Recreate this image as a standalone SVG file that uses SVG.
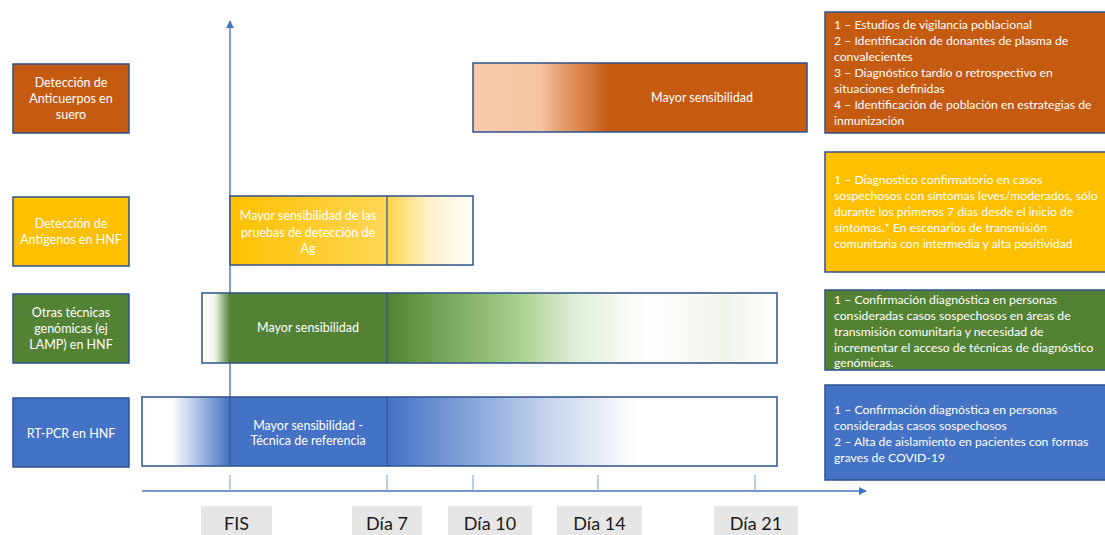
<svg xmlns="http://www.w3.org/2000/svg" width="1105" height="535" viewBox="0 0 1105 535">
<style>
.lbl{font-family:Lato,"Liberation Sans",sans-serif;font-size:12.5px;fill:#ffffff;text-anchor:middle}
.desc{font-family:Lato,"Liberation Sans",sans-serif;font-size:12.2px;fill:#ffffff}
.day{font-family:Lato,"Liberation Sans",sans-serif;font-size:18px;fill:#1a1a1a;text-anchor:middle}
.bx{stroke:#2f528f;stroke-width:1.5}
.bar{fill:none;stroke:#2f528f;stroke-width:1.5}
.div{stroke:#2f528f;stroke-width:1.2}
.axis{stroke:#4472c4;stroke-width:1.4;fill:none}
.tick{stroke:#8faadc;stroke-width:1.2}
.dbg{fill:#e7e6e6}
</style>
<defs>
<marker id="arr" viewBox="0 0 10 10" refX="9" refY="5" markerWidth="8" markerHeight="8" markerUnits="userSpaceOnUse" orient="auto">
<path d="M0,0 L10,5 L0,10 z" fill="#4472c4"/>
</marker>
<linearGradient id="gAb" x1="0" y1="0" x2="1" y2="0">
<stop offset="0" stop-color="#f8cbad"/><stop offset="0.2" stop-color="#f5c4a1"/><stop offset="0.27" stop-color="#e39d6c"/><stop offset="0.34" stop-color="#d67d42"/><stop offset="0.41" stop-color="#c55a11"/><stop offset="1" stop-color="#c55a11"/>
</linearGradient>
<linearGradient id="gAgL" x1="0" y1="0" x2="1" y2="0">
<stop offset="0" stop-color="#ffc000"/><stop offset="1" stop-color="#ffd757"/>
</linearGradient>
<linearGradient id="gAgR" x1="0" y1="0" x2="1" y2="0">
<stop offset="0" stop-color="#ffd34d"/><stop offset="0.5" stop-color="#fff2cc"/><stop offset="1" stop-color="#fffdf5"/>
</linearGradient>
<linearGradient id="gGnL" x1="0" y1="0" x2="1" y2="0">
<stop offset="0" stop-color="#ffffff"/><stop offset="0.45" stop-color="#f2f7ee"/><stop offset="1" stop-color="#548235"/>
</linearGradient>
<linearGradient id="gGnR" x1="0" y1="0" x2="1" y2="0">
<stop offset="0" stop-color="#548235"/><stop offset="0.34" stop-color="#a9d18e"/><stop offset="0.49" stop-color="#e2efda"/><stop offset="0.67" stop-color="#ffffff"/><stop offset="0.87" stop-color="#f0f5ec"/><stop offset="1" stop-color="#ffffff"/>
</linearGradient>
<linearGradient id="gBlL" x1="0" y1="0" x2="1" y2="0">
<stop offset="0" stop-color="#ffffff"/><stop offset="0.34" stop-color="#ffffff"/><stop offset="1" stop-color="#4472c4"/>
</linearGradient>
<linearGradient id="gBlR" x1="0" y1="0" x2="1" y2="0">
<stop offset="0" stop-color="#4472c4"/><stop offset="0.24" stop-color="#8faadc"/><stop offset="0.4" stop-color="#c2d1ec"/><stop offset="0.64" stop-color="#ffffff"/><stop offset="1" stop-color="#ffffff"/>
</linearGradient>
</defs>
<rect width="1105" height="535" fill="#ffffff"/>

<g id="connectors">
<line class="axis" x1="230" y1="466" x2="230" y2="21" marker-end="url(#arr)"/>
<line class="axis" x1="142" y1="491" x2="866" y2="491" marker-end="url(#arr)"/>
<line class="tick" x1="230" y1="475" x2="230" y2="491"/>
<line class="tick" x1="387" y1="475" x2="387" y2="491"/>
<line class="tick" x1="473" y1="475" x2="473" y2="491"/>
<line class="tick" x1="598" y1="475" x2="598" y2="491"/>
<line class="tick" x1="755" y1="475" x2="755" y2="491"/>
</g>

<g id="test-anticuerpos">
<rect class="bx" x="13" y="64" width="116" height="69" fill="#c55a11"/>
<text class="lbl" x="71" y="87">Detección de</text>
<text class="lbl" x="71" y="103">Anticuerpos en</text>
<text class="lbl" x="71" y="119">suero</text>
</g>
<g id="test-antigenos">
<rect class="bx" x="13" y="197" width="116" height="69" fill="#ffc000"/>
<text class="lbl" x="71" y="228">Detección de</text>
<text class="lbl" x="71" y="244">Antígenos en HNF</text>
</g>
<g id="test-genomicas">
<rect class="bx" x="13" y="294" width="116" height="69" fill="#548235"/>
<text class="lbl" x="71" y="317">Otras técnicas</text>
<text class="lbl" x="71" y="333">genómicas (ej</text>
<text class="lbl" x="71" y="349">LAMP) en HNF</text>
</g>
<g id="test-rtpcr">
<rect class="bx" x="13" y="398" width="116" height="69" fill="#4472c4"/>
<text class="lbl" x="71" y="438">RT-PCR en HNF</text>
</g>

<g id="bar-anticuerpos">
<rect x="473" y="63" width="334" height="69" fill="url(#gAb)"/>
<rect class="bar" x="473" y="63" width="334" height="69"/>
<text class="lbl" x="702" y="102">Mayor sensibilidad</text>
</g>
<g id="bar-antigenos">
<rect x="230" y="196" width="157" height="69" fill="url(#gAgL)"/>
<rect x="387" y="196" width="86" height="69" fill="url(#gAgR)"/>
<rect class="bar" x="230" y="196" width="243" height="69"/>
<line class="div" x1="387" y1="196" x2="387" y2="265"/>
<text class="lbl" x="308" y="220">Mayor sensibilidad de las</text>
<text class="lbl" x="308" y="237">pruebas de detección de</text>
<text class="lbl" x="308" y="253">Ag</text>
</g>
<g id="bar-genomicas">
<rect x="202" y="293" width="28" height="70" fill="url(#gGnL)"/>
<rect x="230" y="293" width="157" height="70" fill="#548235"/>
<rect x="387" y="293" width="390" height="70" fill="url(#gGnR)"/>
<rect class="bar" x="202" y="293" width="575" height="70"/>
<line class="div" x1="387" y1="293" x2="387" y2="363"/>
<text class="lbl" x="308" y="332">Mayor sensibilidad</text>
</g>
<g id="bar-rtpcr">
<rect x="142" y="397" width="88" height="69" fill="url(#gBlL)"/>
<rect x="230" y="397" width="157" height="69" fill="#4472c4"/>
<rect x="387" y="397" width="390" height="69" fill="url(#gBlR)"/>
<rect class="bar" x="142" y="397" width="635" height="69"/>
<line class="div" x1="230" y1="397" x2="230" y2="466"/>
<line class="div" x1="387" y1="397" x2="387" y2="466"/>
<text class="lbl" x="308" y="430">Mayor sensibilidad  -</text>
<text class="lbl" x="308" y="445">Técnica de referencia</text>
</g>

<g id="uso-anticuerpos">
<rect class="bx" x="825" y="12" width="285" height="121" fill="#c55a11"/>
<text class="desc" x="834" y="29">1 – Estudios de vigilancia poblacional</text>
<text class="desc" x="834" y="45">2 – Identificación de donantes de plasma de</text>
<text class="desc" x="834" y="61">convalecientes</text>
<text class="desc" x="834" y="77">3 – Diagnóstico tardío o retrospectivo en</text>
<text class="desc" x="834" y="93">situaciones definidas</text>
<text class="desc" x="834" y="109">4 – Identificación de población en estrategias de</text>
<text class="desc" x="834" y="125">inmunización</text>
</g>
<g id="uso-antigenos">
<rect class="bx" x="825" y="152" width="285" height="120" fill="#ffc000"/>
<text class="desc" x="834" y="184">1 – Diagnostico confirmatorio en casos</text>
<text class="desc" x="834" y="200">sospechosos con síntomas leves/moderados, sólo</text>
<text class="desc" x="834" y="216">durante los primeros 7 días desde el inicio de</text>
<text class="desc" x="834" y="232">síntomas.* En escenarios de transmisión</text>
<text class="desc" x="834" y="248">comunitaria con intermedia y alta positividad</text>
</g>
<g id="uso-genomicas">
<rect class="bx" x="825" y="290" width="285" height="80" fill="#548235"/>
<text class="desc" x="834" y="304">1 – Confirmación diagnóstica en personas</text>
<text class="desc" x="834" y="320">consideradas casos sospechosos en áreas de</text>
<text class="desc" x="834" y="336">transmisión comunitaria y necesidad de</text>
<text class="desc" x="834" y="352">incrementar el acceso de técnicas de diagnóstico</text>
<text class="desc" x="834" y="367">genómicas.</text>
</g>
<g id="uso-rtpcr">
<rect class="bx" x="825" y="385" width="285" height="95" fill="#4472c4"/>
<text class="desc" x="834" y="414">1 – Confirmación diagnóstica en personas</text>
<text class="desc" x="834" y="430">consideradas casos sospechosos</text>
<text class="desc" x="834" y="446">2 – Alta de aislamiento en pacientes con formas</text>
<text class="desc" x="834" y="462">graves de COVID-19</text>
</g>

<g id="dias">
<rect class="dbg" x="201" y="506" width="71" height="29"/>
<text class="day" x="236.5" y="530">FIS</text>
<rect class="dbg" x="352" y="506" width="70" height="29"/>
<text class="day" x="387" y="530">Día 7</text>
<rect class="dbg" x="448" y="506" width="84" height="29"/>
<text class="day" x="490" y="530">Día 10</text>
<rect class="dbg" x="557" y="506" width="85" height="29"/>
<text class="day" x="599.5" y="530">Día 14</text>
<rect class="dbg" x="714" y="506" width="84" height="29"/>
<text class="day" x="756" y="530">Día 21</text>
</g>
</svg>
